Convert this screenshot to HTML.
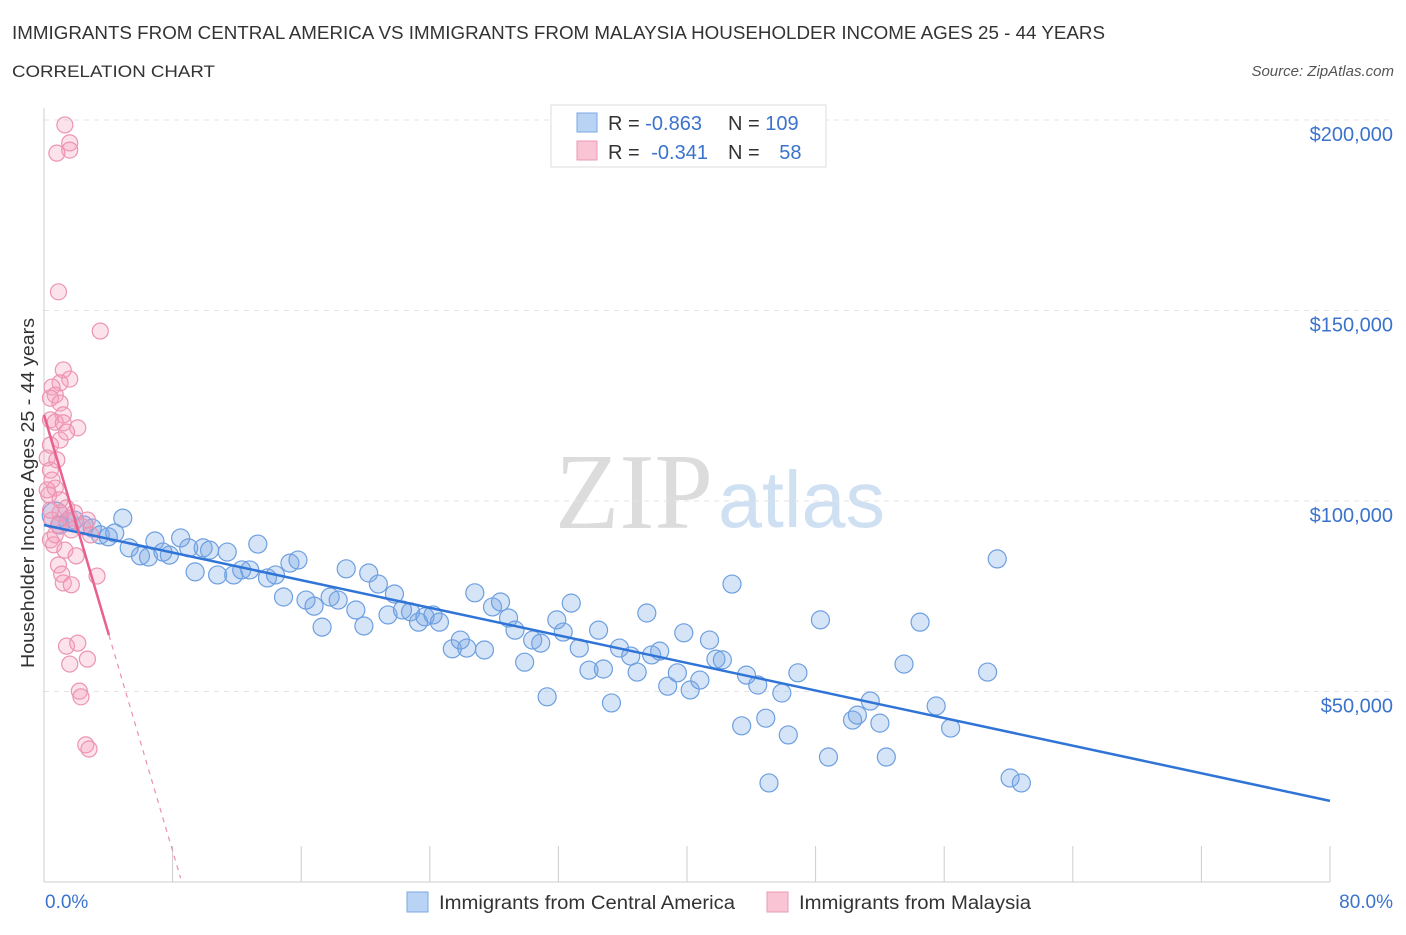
<!DOCTYPE html>
<html><head><meta charset="utf-8"><style>
body{margin:0;background:#fff;font-family:"Liberation Sans",sans-serif;}
</style></head><body>
<svg id="chart" width="1406" height="930" viewBox="0 0 1406 930" xmlns="http://www.w3.org/2000/svg" font-family="Liberation Sans, sans-serif">
<text x="12" y="39" font-size="18" fill="#333" textLength="1093" lengthAdjust="spacingAndGlyphs">IMMIGRANTS FROM CENTRAL AMERICA VS IMMIGRANTS FROM MALAYSIA HOUSEHOLDER INCOME AGES 25 - 44 YEARS</text>
<text x="12" y="77" font-size="17" fill="#333" textLength="203" lengthAdjust="spacingAndGlyphs">CORRELATION CHART</text>
<text x="1394" y="76" font-size="15" fill="#555" text-anchor="end" font-style="italic">Source: ZipAtlas.com</text>
<g>
<text x="555" y="528" font-size="108" fill="#dcdcdc" font-family="Liberation Serif, serif" textLength="158" lengthAdjust="spacingAndGlyphs">ZIP</text>
<text x="718" y="527" font-size="80" fill="#cfe0f3" textLength="167" lengthAdjust="spacingAndGlyphs">atlas</text>
</g>
<g id="grid"></g>
<g id="axes"></g>
<g id="pts"></g>
<g id="trends"></g>
<text transform="translate(34,493) rotate(-90)" font-size="18" fill="#333" text-anchor="middle" textLength="350" lengthAdjust="spacingAndGlyphs">Householder Income Ages 25 - 44 years</text>
<g>
<rect x="551" y="105" width="275" height="62" fill="#fff" stroke="#ddd"/>
<rect x="577" y="113" width="20" height="19" fill="#b9d3f4" stroke="#7aa7e3"/>
<rect x="577" y="141" width="20" height="19" fill="#f9c4d4" stroke="#eb9ab5"/>
<text x="608" y="130" font-size="20" fill="#333">R = <tspan fill="#3b73cc">-0.863</tspan></text>
<text x="728" y="130" font-size="20" fill="#333">N = <tspan fill="#3b73cc">109</tspan></text>
<text x="608" y="159" font-size="20" fill="#333">R = <tspan fill="#3b73cc" dx="6">-0.341</tspan></text>
<text x="728" y="159" font-size="20" fill="#333">N = <tspan fill="#3b73cc" dx="14">58</tspan></text>
</g>
<g>
<rect x="407" y="892" width="21" height="20" fill="#b9d3f4" stroke="#7aa7e3"/>
<text x="439" y="909" font-size="19" fill="#333" textLength="296" lengthAdjust="spacingAndGlyphs">Immigrants from Central America</text>
<rect x="767" y="892" width="21" height="20" fill="#f9c4d4" stroke="#eb9ab5"/>
<text x="799" y="909" font-size="19" fill="#333" textLength="232" lengthAdjust="spacingAndGlyphs">Immigrants from Malaysia</text>
</g>
</svg>
<script>
const yTicks=[50000,100000,150000,200000];
const yTickLabels=["$50,000","$100,000","$150,000","$200,000"];
const xEndLabels=["0.0%","80.0%"];
const blueX=[0.7,1.0,1.5,1.9,2.5,3.0,3.5,4.0,4.4,4.9,5.3,6.0,6.5,6.9,7.4,7.8,8.5,9.0,9.4,9.9,10.3,10.8,11.4,11.8,12.3,12.8,13.3,13.9,14.4,14.9,15.3,15.8,16.3,16.8,17.3,17.8,18.3,18.8,19.4,19.9,20.2,20.8,21.4,21.8,22.3,22.8,23.3,23.7,24.2,24.6,25.4,25.9,26.3,26.8,27.4,27.9,28.4,28.9,29.3,29.9,30.4,30.9,31.3,31.9,32.3,32.8,33.3,33.9,34.5,34.8,35.3,35.8,36.5,36.9,37.5,37.8,38.3,38.8,39.4,39.8,40.2,40.8,41.4,41.8,42.2,42.8,43.4,43.7,44.4,44.9,45.9,46.3,46.9,48.3,48.8,50.3,50.6,51.4,52.0,52.4,53.5,54.5,55.5,56.4,58.7,59.3,60.1,60.8,45.1];
const blueY=[96.3,93.7,94.5,95.0,93.7,92.9,91.1,90.6,91.6,95.5,87.7,85.6,85.3,89.5,86.6,85.8,90.3,87.7,81.4,87.7,87.1,80.6,86.6,80.6,81.9,81.9,88.7,79.8,80.6,74.8,83.7,84.5,74.0,72.4,66.9,74.8,74.0,82.2,71.4,67.2,81.1,78.2,70.1,75.6,71.4,70.9,68.2,69.6,70.1,68.2,61.2,63.5,61.4,75.9,60.9,72.2,73.5,69.3,66.1,57.7,63.5,62.7,48.6,68.8,65.6,73.2,61.4,55.6,66.1,55.9,47.0,61.4,59.3,55.1,70.6,59.6,60.6,51.4,54.9,65.4,50.4,53.0,63.5,58.5,58.3,78.2,41.0,54.3,51.7,43.0,49.6,38.6,54.9,68.8,32.8,42.5,43.8,47.5,41.7,32.8,57.2,68.2,46.2,40.4,55.1,84.8,27.3,26.0,26.0];
const pinkX=[1.3,1.6,1.6,0.8,0.9,3.5,1.2,1.6,1.0,0.5,0.7,0.4,1.0,1.2,0.4,0.7,1.2,2.1,1.0,0.4,0.2,0.4,0.5,0.7,0.3,1.4,1.0,1.6,1.9,0.5,0.9,2.4,0.4,0.6,1.3,2.0,0.9,1.1,3.3,1.2,1.7,1.4,2.1,1.6,2.7,2.2,2.3,2.6,2.8,0.2,1.0,0.7,2.7,1.4,0.8,1.7,2.9,0.4];
const pinkY=[198.7,194.0,192.1,191.3,154.9,144.6,134.4,132.0,131.0,129.9,127.8,127.0,125.7,122.6,121.3,120.7,120.5,119.2,116.0,114.7,111.3,108.1,105.5,103.4,101.6,98.2,96.9,95.5,96.9,95.0,93.7,93.2,89.8,88.5,87.1,85.6,83.2,80.8,80.3,78.5,78.0,61.9,62.7,57.2,58.5,50.1,48.6,36.0,34.9,102.9,100.3,91.1,95.0,118.1,110.8,92.4,91.1,97.6];
const blueTrend=[[0,93.7],[80,21.3]];
const pinkTrendSolid=[[0,122.6],[4.04,64.8]];
const pinkTrendDash=[[4.04,64.8],[8.5,1.0]];

const NS="http://www.w3.org/2000/svg";
const X0=44,X1=1330,Y0=882,PERK=3.81;
const sx=v=>X0+(v/80)*(X1-X0);
const sy=k=>Y0-k*PERK;
function mk(tag,attrs,parent){const e=document.createElementNS(NS,tag);for(const k in attrs)e.setAttribute(k,attrs[k]);parent.appendChild(e);return e;}
const grid=document.getElementById('grid'),axes=document.getElementById('axes'),pts=document.getElementById('pts'),tr=document.getElementById('trends');
yTicks.forEach((t,i)=>{
  const y=sy(t/1000);
  const l=mk('line',{x1:X0,x2:1392,y1:y,y2:y,stroke:'#e3e3e3','stroke-dasharray':'5,5'},grid);
  
  
  const tx=mk('text',{x:1393,y:y+21,'font-size':20,fill:'#3b73cc','text-anchor':'end'},axes);
  tx.textContent=yTickLabels[i];
  
  
});
const ax=mk('line',{x1:X0,x2:X1,y1:Y0,y2:Y0,stroke:'#ccc'},axes);


const ay=mk('line',{x1:X0,x2:X0,y1:108,y2:Y0,stroke:'#ccc'},axes);


for(let i=1;i<=10;i++){
  const x=sx(i*8);
  const tk=mk('line',{x1:x,x2:x,y1:Y0-36,y2:Y0,stroke:'#ccc'},axes);
  
  
}
const xl0=mk('text',{x:45,y:908,'font-size':19,fill:'#3b73cc'},axes);xl0.textContent=xEndLabels[0];


const xl1=mk('text',{x:1393,y:908,'font-size':19,fill:'#3b73cc','text-anchor':'end'},axes);xl1.textContent=xEndLabels[1];


blueX.forEach((v,i)=>{
  const c=mk('circle',{cx:sx(v),cy:sy(blueY[i]),r:i===0?13:9,fill:'rgba(120,165,230,0.3)',stroke:'#6d9fe0','stroke-width':1.2},pts);
  
  
});
pinkX.forEach((v,i)=>{
  const c=mk('circle',{cx:sx(v),cy:sy(pinkY[i]),r:8,fill:'rgba(244,160,190,0.3)',stroke:'#ec93b2','stroke-width':1.2},pts);
  
  
});
const bl=mk('line',{x1:sx(blueTrend[0][0]),y1:sy(blueTrend[0][1]),x2:sx(blueTrend[1][0]),y2:sy(blueTrend[1][1]),stroke:'#2f74d6','stroke-width':2.5},tr);


const pl=mk('line',{x1:sx(pinkTrendSolid[0][0]),y1:sy(pinkTrendSolid[0][1]),x2:sx(pinkTrendSolid[1][0]),y2:sy(pinkTrendSolid[1][1]),stroke:'#e8608f','stroke-width':2.5},tr);


const pd=mk('line',{x1:sx(pinkTrendDash[0][0]),y1:sy(pinkTrendDash[0][1]),x2:sx(pinkTrendDash[1][0]),y2:sy(pinkTrendDash[1][1]),stroke:'#ec8fb0','stroke-width':1.2,'stroke-dasharray':'5,5'},tr);


</script>
</body></html>
